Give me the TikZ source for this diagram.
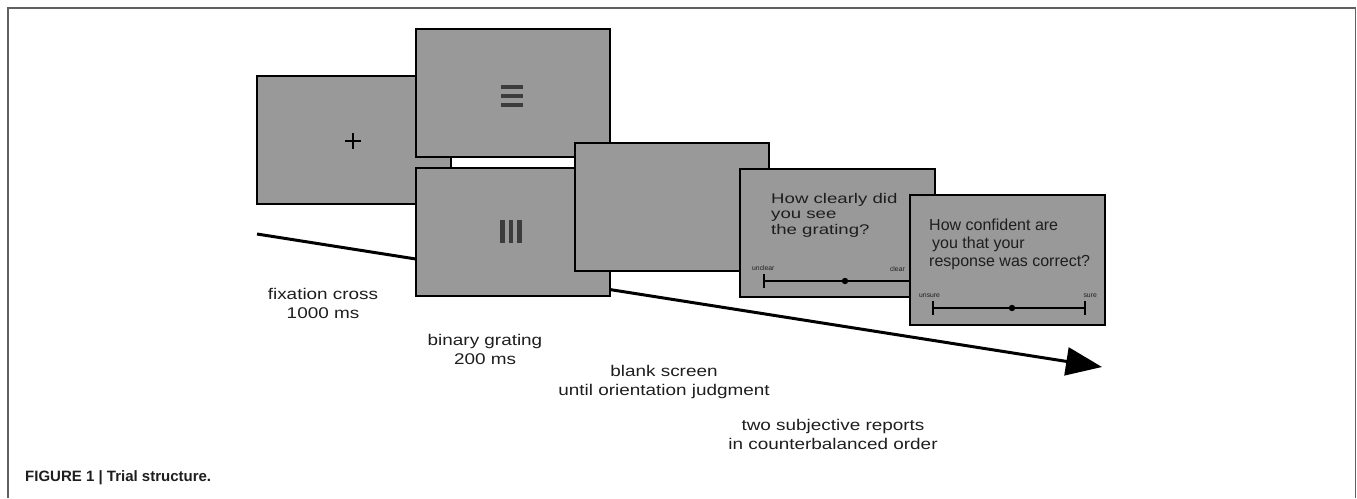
\documentclass[tikz,border=0pt]{standalone}
\usepackage{fontspec}
\setmainfont{Liberation Sans}
\newfontfamily\widefont[FakeStretch=1.22]{Liberation Sans}
\newfontfamily\qfont[FakeStretch=1.33]{Liberation Sans}
\usetikzlibrary{arrows.meta}
\definecolor{screenc}{HTML}{999999}
\definecolor{barc}{HTML}{3C3C3C}
\definecolor{framec}{HTML}{606060}
\definecolor{textc}{HTML}{1E1E1E}
\begin{document}
\begin{tikzpicture}[x=1pt,y=-1pt,
  screen/.style={draw=black, line width=2.6pt, fill=screenc, minimum width=194pt,
    minimum height=128pt, inner sep=0pt, outer sep=0pt, anchor=north west},
  caption/.style={font=\widefont\fontsize{15.5}{19}\selectfont, align=center, text=textc, inner sep=0pt},
  question/.style={align=left, text=textc, inner sep=0pt, anchor=north west},
  tiny/.style={font=\fontsize{6.8}{7}\selectfont, text=textc, inner sep=0pt},
  scaleline/.style={line width=1.6pt, black},
  barfill/.style={fill=barc, draw=none},
  timeline/.style={line width=3pt, black, -{Triangle[length=36pt,width=28pt]}}]
\useasboundingbox (0,0) rectangle (1357,498);
% outer frame
\draw[framec, line width=1.6pt] (8,498) -- (8,8) -- (1355.5,8) -- (1355.5,498);
% timeline arrow
\coordinate (tstart) at (257,234);
\coordinate (ttip) at (1102,367);
\draw[timeline] (tstart) -- (ttip);
% screens
\node[screen] (fix) at (257,76) {};
\node[screen] (gratH) at (416,29) {};
\node[screen] (gratV) at (416,168) {};
\node[screen] (blank) at (575,143) {};
\node[screen, minimum width=195pt] (clar) at (740,169) {};
% fixation cross
\draw[line width=1.6pt] (345,141) -- (361,141) (353,133) -- (353,149);
% horizontal grating
\fill[barfill] (501,85) rectangle (523,89);
\fill[barfill] (501,94) rectangle (523,98);
\fill[barfill] (501,103) rectangle (523,107);
% vertical grating
\fill[barfill] (500,220) rectangle (504.5,243);
\fill[barfill] (508.5,220) rectangle (513,243);
\fill[barfill] (517,220) rectangle (521.5,243);
% clarity screen contents
\node[question, font=\qfont\fontsize{14}{15.5}\selectfont] (clarq) at (771,193) {How clearly did\\you see\\the grating?};
\node[tiny, anchor=base west] (unclearlbl) at (752,270) {unclear};
\node[tiny, anchor=base east] (clearlbl) at (905,271) {clear};
\draw[scaleline] (764,281) -- (926,281);
\draw[scaleline] (764,274) -- (764,288);
\draw[scaleline] (926,274) -- (926,288);
\fill (845,281) circle (3.2pt);
% confidence screen on top
\node[screen, minimum width=195pt, minimum height=130pt] (conf) at (910,195) {};
\node[question, font=\fontsize{16}{18}\selectfont] (confq) at (929,219) {How confident are\\\hspace{3pt}you that your\\response was correct?};
\node[tiny, anchor=base west] (unsurelbl) at (919,297) {unsure};
\node[tiny, anchor=base east] (surelbl) at (1097,297) {sure};
\draw[scaleline] (933,308) -- (1085,308);
\draw[scaleline] (933,301) -- (933,315);
\draw[scaleline] (1085,301) -- (1085,315);
\fill (1012,308) circle (3.2pt);
% captions under the timeline
\node[caption] (fixcap) at (323,303) {fixation cross\\1000 ms};
\node[caption] (gratcap) at (485,349) {binary grating\\200 ms};
\node[caption] (blankcap) at (664,382) {blank screen\\until orientation judgment};
\node[caption] (repcap) at (833,434) {two subjective reports\\in counterbalanced order};
% figure caption
\node[anchor=base west, inner sep=0pt, font=\bfseries\fontsize{15}{17}\selectfont, text=textc] (figcap) at (25,481) {FIGURE 1 | Trial structure.};
\end{tikzpicture}
\end{document}
